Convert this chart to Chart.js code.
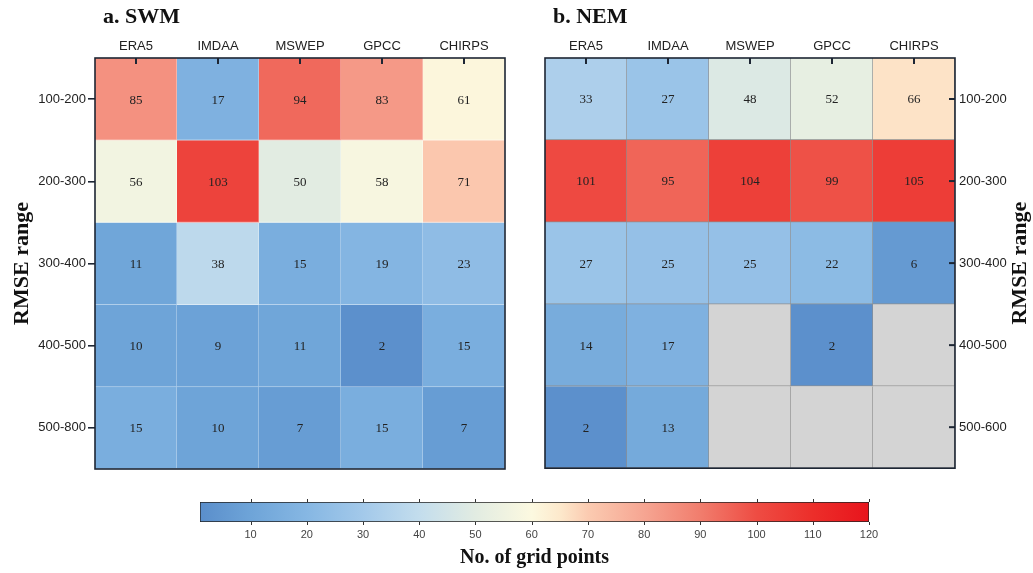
<!DOCTYPE html>
<html>
<head>
<meta charset="utf-8">
<script src="https://cdn.jsdelivr.net/npm/chart.js@4.4.1/dist/chart.umd.min.js"></script>
<style>
  html, body { margin: 0; padding: 0; background: #fff; }
  body { width: 1033px; height: 573px; overflow: hidden; position: relative; }
  canvas { position: absolute; }
</style>
</head>
<body>
<canvas id="swm" width="520" height="480" style="left:0;top:0"></canvas>
<canvas id="nem" width="513" height="480" style="left:520px;top:0"></canvas>
<canvas id="scale" width="1033" height="93" style="left:0;top:480px"></canvas>
<script>
// Products (columns) and RMSE classes (rows)
const products = ['ERA5', 'IMDAA', 'MSWEP', 'GPCC', 'CHIRPS'];
const swmRanges = ['100-200', '200-300', '300-400', '400-500', '500-800'];
const nemRanges = ['100-200', '200-300', '300-400', '400-500', '500-600'];

// Number of grid points per RMSE class, one row per class
const swmCounts = [
  [85, 17, 94, 83, 61],
  [56, 103, 50, 58, 71],
  [11, 38, 15, 19, 23],
  [10, 9, 11, 2, 15],
  [15, 10, 7, 15, 7]
];
const nemCounts = [
  [33, 27, 48, 52, 66],
  [101, 95, 104, 99, 105],
  [27, 25, 25, 22, 6],
  [14, 17, null, 2, null],
  [2, 13, null, null, null]
];

// Colour bar
const scaleRange = [1, 120];
const scaleTicks = [10, 20, 30, 40, 50, 60, 70, 80, 90, 100, 110, 120];

// Diverging blue - cream - red palette
const palette = [
  [1, '#5a8ecb'], [10, '#6ea4d8'], [20, '#86b7e3'], [30, '#a3c9ea'],
  [40, '#c3dded'], [50, '#e2ece2'], [60, '#fcf9e0'], [65, '#fde9cc'],
  [70, '#fbcbb1'], [80, '#f6a592'], [90, '#f17d6d'], [100, '#ee4c43'],
  [110, '#ec2e2a'], [120, '#e8141c']
];
const MISSING = '#d4d4d4';
const SERIF = '"Liberation Serif", "Times New Roman", serif';
const SANS = '"Liberation Sans", Arial, sans-serif';
const INK = '#1d2634';

function hex(c) { return [1, 3, 5].map(i => parseInt(c.substr(i, 2), 16)); }
function rgb(a) { return 'rgb(' + a.map(Math.round).join(',') + ')'; }
function colorFor(v) {
  if (v <= palette[0][0]) return palette[0][1];
  for (let i = 1; i < palette.length; i++) {
    const [v1, c1] = palette[i];
    if (v <= v1) {
      const [v0, c0] = palette[i - 1];
      const t = (v - v0) / (v1 - v0);
      const a = hex(c0), b = hex(c1);
      return rgb(a.map((x, k) => x + (b[k] - x) * t));
    }
  }
  return palette[palette.length - 1][1];
}
function lighten(c, t) {
  const a = c.startsWith('#') ? hex(c) : c.match(/\d+/g).map(Number);
  return rgb(a.map(x => x + (255 - x) * t));
}

// Values written at the centre of each cell
const cellText = {
  id: 'cellText',
  afterDatasetsDraw(chart) {
    const ctx = chart.ctx;
    ctx.save();
    ctx.font = '13px ' + SERIF;
    ctx.fillStyle = '#222';
    ctx.textAlign = 'center';
    ctx.textBaseline = 'middle';
    chart.data.datasets.forEach((ds, i) => {
      chart.getDatasetMeta(i).data.forEach((el, j) => {
        const v = ds.counts[j];
        if (v == null) return;
        const p = el.getProps(['x', 'y', 'base'], true);
        ctx.fillText(String(v), p.x, (p.y + p.base) / 2 + 1);
      });
    });
    ctx.restore();
  }
};

// Panel frame, inward tick marks, panel heading and side title
const panelDecor = {
  id: 'panelDecor',
  afterDraw(chart, args, opts) {
    const { ctx, chartArea: a } = chart;
    const xs = chart.scales.x, ys = chart.scales.y;
    ctx.save();
    ctx.strokeStyle = INK;
    ctx.lineWidth = 2;
    xs.ticks.forEach((t, i) => {
      const px = xs.getPixelForTick(i);
      ctx.beginPath(); ctx.moveTo(px, a.top); ctx.lineTo(px, a.top + 6); ctx.stroke();
    });
    if (opts.yInward) {
      ys.ticks.forEach((t, i) => {
        const py = ys.getPixelForTick(i);
        ctx.beginPath(); ctx.moveTo(a.right, py); ctx.lineTo(a.right - 6, py); ctx.stroke();
      });
    }
    ctx.lineWidth = 1.6;
    ctx.strokeRect(a.left, a.top, a.right - a.left, a.bottom - a.top);

    ctx.fillStyle = '#111';
    ctx.font = 'bold 22px ' + SERIF;
    ctx.textAlign = 'left';
    ctx.textBaseline = 'alphabetic';
    ctx.fillText(opts.heading, a.left + 8, 23);

    if (opts.sideTitle) {
      ctx.translate(opts.sideTitle.x, (a.top + a.bottom) / 2);
      ctx.rotate(-Math.PI / 2);
      ctx.textAlign = 'center';
      ctx.textBaseline = 'middle';
      ctx.fillText(opts.sideTitle.text, 0, 0);
    }
    ctx.restore();
  }
};

function heatmap(id, ranges, counts, cfg) {
  const datasets = counts.map((row, r) => ({
    data: row.map(() => [r, r + 1]),
    counts: row,
    grouped: false,
    backgroundColor: c => row[c.dataIndex] == null ? MISSING : colorFor(row[c.dataIndex]),
    borderColor: c => cfg.lineColor || lighten(row[c.dataIndex] == null ? MISSING : colorFor(row[c.dataIndex]), 0.45),
    borderWidth: { top: 0, left: 0, right: 1, bottom: 1 },
    borderSkipped: false,
    barPercentage: 1,
    categoryPercentage: 1
  }));
  const left = cfg.side === 'left';
  return new Chart(document.getElementById(id), {
    type: 'bar',
    data: { labels: products, datasets },
    options: {
      responsive: false,
      animation: false,
      layout: { padding: cfg.padding },
      plugins: {
        legend: { display: false },
        tooltip: { enabled: false },
        panelDecor: { heading: cfg.heading, yInward: !left, sideTitle: cfg.sideTitle }
      },
      scales: {
        x: {
          position: 'top',
          grid: { display: false, drawTicks: false },
          border: { display: false },
          ticks: { color: '#222', font: { family: SANS, size: 13 }, padding: 4, maxRotation: 0 },
          afterFit: s => { s.height = 58 - cfg.padding.top; }
        },
        y: {
          type: 'linear',
          position: cfg.side,
          min: 0, max: ranges.length,
          reverse: true,
          afterBuildTicks: s => { s.ticks = ranges.map((_, i) => ({ value: i + 0.5 })); },
          ticks: {
            callback: v => ranges[Math.floor(v)],
            color: '#222',
            font: { family: SANS, size: 13 },
            padding: left ? 2 : 4,
            autoSkip: false
          },
          grid: left
            ? { drawOnChartArea: false, drawTicks: true, tickLength: 7, color: INK, lineWidth: 1.6 }
            : { display: false, drawTicks: false },
          border: { display: false },
          title: left
            ? { display: true, text: 'RMSE range', color: '#111', font: { family: SERIF, size: 22, weight: 'bold' }, padding: { top: 9, bottom: 0 } }
            : { display: false },
          afterFit: s => { s.width = cfg.axisWidth; }
        }
      }
    },
    plugins: [cellText, panelDecor]
  });
}

heatmap('swm', swmRanges, swmCounts, {
  side: 'left', heading: 'a. SWM', axisWidth: 95,
  padding: { left: 0, right: 15, top: 0, bottom: 11 }
});
heatmap('nem', nemRanges, nemCounts, {
  side: 'right', heading: 'b. NEM', axisWidth: 78, lineColor: '#8f8f8f',
  padding: { left: 25, right: 0, top: 0, bottom: 11 },
  sideTitle: { text: 'RMSE range', x: 500 }
});

// Colour bar: one floating bar spanning the value range, filled with the palette
const barTicks = {
  id: 'barTicks',
  afterDraw(chart) {
    const { ctx, chartArea: a } = chart;
    const xs = chart.scales.x;
    ctx.save();
    ctx.strokeStyle = '#333';
    ctx.lineWidth = 1;
    xs.ticks.forEach((t, i) => {
      const px = Math.round(xs.getPixelForTick(i)) + 0.5;
      ctx.beginPath(); ctx.moveTo(px, a.top); ctx.lineTo(px, a.top - 3); ctx.stroke();
      ctx.beginPath(); ctx.moveTo(px, a.bottom); ctx.lineTo(px, a.bottom + 3); ctx.stroke();
    });
    ctx.restore();
  }
};

new Chart(document.getElementById('scale'), {
  type: 'bar',
  data: {
    labels: [''],
    datasets: [{
      data: [scaleRange],
      backgroundColor: c => {
        const chart = c.chart, xs = chart.scales.x;
        if (!chart.chartArea || !xs) return palette[0][1];
        const x0 = xs.getPixelForValue(scaleRange[0]), x1 = xs.getPixelForValue(scaleRange[1]);
        const g = chart.ctx.createLinearGradient(x0, 0, x1, 0);
        palette.forEach(([v, col]) => g.addColorStop((v - scaleRange[0]) / (scaleRange[1] - scaleRange[0]), col));
        return g;
      },
      borderColor: '#222',
      borderWidth: 1,
      borderSkipped: false,
      barPercentage: 1,
      categoryPercentage: 1
    }]
  },
  options: {
    indexAxis: 'y',
    responsive: false,
    animation: false,
    layout: { padding: { left: 200, right: 164, top: 22, bottom: 0 } },
    plugins: { legend: { display: false }, tooltip: { enabled: false } },
    scales: {
      y: { display: false },
      x: {
        type: 'linear',
        position: 'bottom',
        min: scaleRange[0], max: scaleRange[1],
        afterBuildTicks: s => { s.ticks = scaleTicks.map(v => ({ value: v })); },
        ticks: { color: '#444', font: { family: SANS, size: 11 }, padding: 6, maxRotation: 0, autoSkip: false },
        grid: { display: false, drawTicks: false },
        border: { display: false },
        title: { display: true, text: 'No. of grid points', color: '#111', font: { family: SERIF, size: 20, weight: 'bold' }, padding: { top: 0, bottom: 3 } },
        afterFit: s => { s.height = 51; }
      }
    }
  },
  plugins: [barTicks]
});
</script>
</body>
</html>
